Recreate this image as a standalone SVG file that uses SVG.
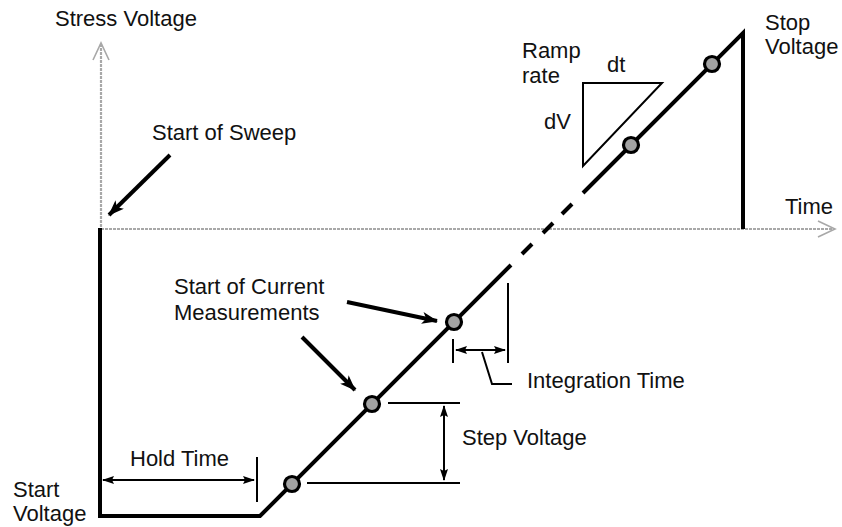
<svg xmlns="http://www.w3.org/2000/svg" width="842" height="527" viewBox="0 0 842 527">
<style>
text{font-family:"Liberation Sans",Arial,sans-serif;font-size:22px;fill:#111}
.axis{stroke:#a8a8a8;stroke-width:2.2;fill:none;stroke-dasharray:3 1}
.trace{stroke:#000;stroke-width:4;fill:none;stroke-linejoin:miter}
.thin{stroke:#000;stroke-width:2;fill:none}
.ptr{stroke:#000;stroke-width:4;fill:none}
.dot{fill:#a3a3a3;stroke:#000;stroke-width:3.2}
</style>
<defs>
<marker id="bigHead" viewBox="0 0 16 12" refX="15" refY="6" markerWidth="16" markerHeight="12" markerUnits="userSpaceOnUse" orient="auto">
<path d="M0,0 L16,6 L0,12 L4,6 Z" fill="#000"/>
</marker>
<marker id="smallEnd" viewBox="0 0 12 8" refX="11" refY="4" markerWidth="12" markerHeight="8" markerUnits="userSpaceOnUse" orient="auto">
<path d="M0,0 L12,4 L0,8 L2,4 Z" fill="#000"/>
</marker>
<marker id="smallStart" viewBox="0 0 12 8" refX="1" refY="4" markerWidth="12" markerHeight="8" markerUnits="userSpaceOnUse" orient="auto">
<path d="M12,0 L0,4 L12,8 L10,4 Z" fill="#000"/>
</marker>
</defs>

<g id="axes">
<line class="axis" x1="101" y1="44" x2="101" y2="229"/>
<path d="M93,60 L101,43 L109,60" stroke="#a8a8a8" stroke-width="1.6" fill="none"/>
<line class="axis" x1="101" y1="229" x2="834" y2="229"/>
<path d="M818,221 L835,229 L818,237" stroke="#a8a8a8" stroke-width="1.6" fill="none"/>
</g>

<g id="connectors">
<path class="trace" d="M100,228 V516 H260 L511,265"/>
<line class="trace" x1="522" y1="254" x2="532" y2="244"/>
<line class="trace" x1="543" y1="233" x2="553" y2="223"/>
<line class="trace" x1="562" y1="214" x2="572" y2="204"/>
<path class="trace" d="M583,193 L743,33 V229"/>
<line class="ptr" x1="170" y1="155" x2="109" y2="215" marker-end="url(#bigHead)"/>
<line class="ptr" x1="347" y1="302" x2="437" y2="321" marker-end="url(#bigHead)"/>
<line class="ptr" x1="302" y1="337" x2="355" y2="390" marker-end="url(#bigHead)"/>
<line class="thin" x1="103" y1="480" x2="254" y2="480" marker-start="url(#smallStart)" marker-end="url(#smallEnd)"/>
<line class="thin" x1="257" y1="457" x2="257" y2="502"/>
<line class="thin" x1="388" y1="403" x2="460" y2="403"/>
<line class="thin" x1="307" y1="483" x2="460" y2="483"/>
<line class="thin" x1="444" y1="406" x2="444" y2="480" marker-start="url(#smallStart)" marker-end="url(#smallEnd)"/>
<line class="thin" x1="453" y1="339" x2="453" y2="363"/>
<line class="thin" x1="508" y1="283" x2="508" y2="363"/>
<line class="thin" x1="456" y1="350" x2="505" y2="350" marker-start="url(#smallStart)" marker-end="url(#smallEnd)"/>
<path class="thin" d="M482,352 L492,384 H512"/>
<path d="M583,83 H662 L583,166 Z" stroke="#000" stroke-width="2" fill="none"/>
</g>

<g id="dots">
<circle class="dot" cx="292" cy="484" r="7.5"/>
<circle class="dot" cx="372" cy="404" r="7.5"/>
<circle class="dot" cx="454" cy="322" r="7.5"/>
<circle class="dot" cx="631" cy="145" r="7.5"/>
<circle class="dot" cx="712" cy="64" r="7.5"/>
</g>

<g id="labels">
<text x="55" y="26">Stress Voltage</text>
<text x="152" y="140">Start of Sweep</text>
<text x="765" y="30">Stop</text>
<text x="765" y="54">Voltage</text>
<text x="522" y="58">Ramp</text>
<text x="522" y="83">rate</text>
<text x="607" y="72">dt</text>
<text x="544" y="129">dV</text>
<text x="785" y="214">Time</text>
<text x="174" y="294">Start of Current</text>
<text x="174" y="320">Measurements</text>
<text x="527" y="388">Integration Time</text>
<text x="462" y="445">Step Voltage</text>
<text x="130" y="466">Hold Time</text>
<text x="13" y="497">Start</text>
<text x="13" y="521">Voltage</text>
</g>
</svg>
